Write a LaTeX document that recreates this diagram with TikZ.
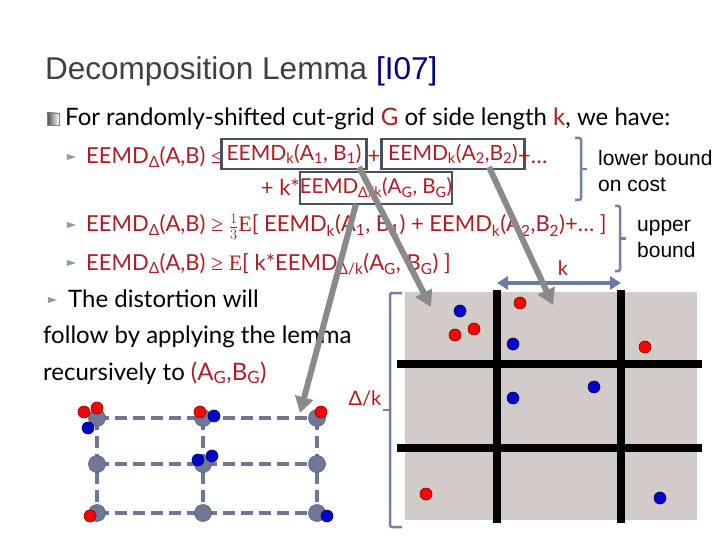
\documentclass[tikz,border=0pt]{standalone}
\usepackage{fontspec}
\setmainfont{Lato}
\newfontfamily\arialf{Liberation Sans}
\newfontfamily\tmsf{Liberation Serif}
\usetikzlibrary{arrows.meta,shapes.geometric}
\definecolor{tred}{RGB}{176,28,36}
\definecolor{tgray}{RGB}{64,64,64}
\definecolor{navyc}{RGB}{0,0,128}
\definecolor{boxc}{RGB}{72,80,102}
\definecolor{brc}{RGB}{118,128,162}
\definecolor{karr}{RGB}{108,122,162}
\definecolor{arrg}{RGB}{138,138,138}
\definecolor{cellbg}{RGB}{211,203,200}
\definecolor{gnode}{RGB}{110,120,150}
\definecolor{dred}{RGB}{255,0,0}
\definecolor{dblue}{RGB}{0,0,200}
\definecolor{bullc}{RGB}{140,152,175}
\newcommand{\mysub}[1]{\textsubscript{#1}}
\newcommand{\bodyfs}{\fontsize{24}{28}\selectfont}
\newcommand{\redfs}{\fontsize{22}{26}\selectfont}
\tikzset{
  txt/.style={inner sep=0, anchor=base west, font=\bodyfs},
  rtxt/.style={txt, text=tred, font=\redfs},
  eqbox/.style={draw=boxc, line width=2.5pt, inner sep=0, text=tred, font=\fontsize{21}{25}\selectfont, minimum height=30pt},
  brk/.style={draw=brc, line width=2.5pt, rounded corners=2pt},
  lbl/.style={inner sep=0, anchor=base west, font=\arialf\fontsize{21}{24}\selectfont, text=black},
  tribul/.style={isosceles triangle, isosceles triangle stretches, fill=bullc, inner sep=0, minimum width=6pt, minimum height=9pt},
  garrow/.style={draw=arrg, line width=6pt, -{Triangle[length=16pt,width=18pt]}},
  karrow/.style={draw=karr, line width=3.5pt, {Triangle[length=11pt,width=13pt]}-{Triangle[length=11pt,width=13pt]}},
  gline/.style={draw=gnode, line width=4pt, dash pattern=on 12pt off 6pt},
  gnd/.style={circle, fill=gnode, draw=gnode!80!black, line width=0.6pt, minimum size=17pt, inner sep=0},
  rd/.style={circle, fill=dred, draw=red!50!black, line width=0.6pt, minimum size=12pt, inner sep=0},
  bd/.style={circle, fill=dblue, draw=blue!40!black, line width=0.6pt, minimum size=12pt, inner sep=0},
  gridl/.style={draw=black, line width=8pt}
}
\begin{document}
\begin{tikzpicture}[x=1pt,y=-1pt]
\useasboundingbox (0,0) rectangle (720,540);
\fill[white] (0,0) rectangle (720,540);

% title
\node[inner sep=0, anchor=base west, font=\arialf\fontsize{31.5}{34}\selectfont, text=tgray] (title) at (45,80) {Decomposition Lemma \textcolor{navyc}{[I07]}};

% line 1
\node[rectangle, minimum size=12pt, inner sep=0, draw=gray, left color=gray!60!black, right color=white] (sq) at (53,119) {};
\node[txt] (l1) at (65,126) {For randomly-shifted cut-grid \textcolor{tred}{G} of side length \textcolor{tred}{k}, we have:};

% line 2
\node[tribul] (b2) at (69,157) {};
\node[rtxt] (l2a) at (86,164) {EEMD\mysub{Δ}(A,B) {\tmsf ≤}};
\node[eqbox, minimum width=145pt] (bx1) at (294,154) {EEMD\mysub{k}(A\mysub{1}, B\mysub{1})};
\node[rtxt, anchor=base] (pl1) at (374,164) {+};
\node[eqbox, minimum width=143pt] (bx2) at (453,154) {EEMD\mysub{k}(A\mysub{2},B\mysub{2})};
\node[rtxt] (pl2) at (518,164) {+…};

% line 3
\node[rtxt, anchor=base east] (l3a) at (300,196) {+ k*};
\node[eqbox, minimum width=147pt, minimum height=32pt, font=\fontsize{20.5}{24}\selectfont] (bx3) at (376,188) {EEMD\mysub{Δ/k}(A\mysub{G}, B\mysub{G})};

% line 4
\node[tribul] (b4) at (69,225) {};
\node[rtxt] (l4) at (86,232) {EEMD\mysub{Δ}(A,B) {\tmsf ≥} $\frac{1}{3}${\tmsf E}[ EEMD\mysub{k}(A\mysub{1}, B\mysub{1}) + EEMD\mysub{k}(A\mysub{2},B\mysub{2})+… ]};

% line 5
\node[tribul] (b5) at (69,263) {};
\node[rtxt] (l5) at (86,270) {EEMD\mysub{Δ}(A,B) {\tmsf ≥ E}[ k*EEMD\mysub{Δ/k}(A\mysub{G}, B\mysub{G}) ]};

% left text
\node[tribul] (b6) at (50,300) {};
\node[txt] (l6) at (68,307) {The distortion will};
\node[txt] (l7) at (43,343) {follow by applying the lemma};
\node[txt] (l8) at (43,380) {recursively to \textcolor{tred}{(A\mysub{G},B\mysub{G})}};

% right labels and braces
\draw[brk] (575,138) -- (581,138) -- (581,200) -- (575,200);
\draw[brk] (581,169) -- (587,169);
\node[lbl] (lb1) at (598,166) {lower bound};
\node[lbl] (lb2) at (598,192) {on cost};
\draw[brk] (615,206) -- (620,206) -- (620,271) -- (615,271);
\draw[brk] (620,238.5) -- (626,238.5);
\node[lbl] (ub1) at (637,231) {upper};
\node[lbl] (ub2) at (637,258) {bound};

% right grid
\fill[cellbg] (405,292) rectangle (697,520);
\draw[gridl] (497,290) -- (497,523);
\draw[gridl] (621,290) -- (621,523);
\draw[gridl] (397,364) -- (702,364);
\draw[gridl] (397,448) -- (702,448);

\draw[brk] (402,293) -- (390,293) -- (390,527) -- (402,527);
\draw[brk] (390,410) -- (383,410);
\node[inner sep=0, text=tred, font=\fontsize{20}{22}\selectfont] (dk) at (365,399) {Δ/k};

\coordinate (kL) at (497,283);
\coordinate (kR) at (621,283);
\draw[karrow] (kL) -- (kR);
\node[inner sep=0, text=tred, font=\fontsize{20}{22}\selectfont] (kk) at (563,268) {k};

\node[bd] (r1) at (460,311) {};
\node[rd] (r2) at (474,329) {};
\node[rd] (r3) at (455,335) {};
\node[rd] (r4) at (520,303) {};
\node[bd] (r5) at (513,344) {};
\node[rd] (r6) at (645,347) {};
\node[bd] (r7) at (594,387) {};
\node[bd] (r8) at (513,398) {};
\node[rd] (r9) at (426,494) {};
\node[bd] (r10) at (660,498) {};

% left grid
\foreach \i/\x in {1/97,2/203,3/317} {
  \foreach \j/\y in {1/418,2/464,3/513} {
    \coordinate (c\i\j) at (\x,\y);
  }
}
\foreach \j in {1,2,3} {
  \draw[gline] (c1\j) -- (c2\j) -- (c3\j);
}
\foreach \i in {1,2,3} {
  \draw[gline] (c\i1) -- (c\i2) -- (c\i3);
}
\foreach \i in {1,2,3} {
  \foreach \j in {1,2,3} {
    \node[gnd] (g\i\j) at (c\i\j) {};
  }
}
\node[rd] (s1) at (84,412) {};
\node[rd] (s2) at (97,408) {};
\node[bd] (s3) at (88,428) {};
\node[rd] (s4) at (200,412) {};
\node[bd] (s5) at (214,416) {};
\node[rd] (s6) at (321,412) {};
\node[bd] (s7) at (198,460) {};
\node[bd] (s8) at (212,456) {};
\node[rd] (s9) at (90,516) {};
\node[bd] (s10) at (327,516) {};

% gray arrows
\coordinate (a1s) at (359,167);
\coordinate (a1e) at (431,307);
\coordinate (a2s) at (489,167);
\coordinate (a2e) at (553,305);
\coordinate (a3s) at (356,204);
\coordinate (a3e) at (300,413);
\draw[garrow] (a1s) -- (a1e);
\draw[garrow] (a2s) -- (a2e);
\draw[garrow] (a3s) -- (a3e);
\end{tikzpicture}
\end{document}
